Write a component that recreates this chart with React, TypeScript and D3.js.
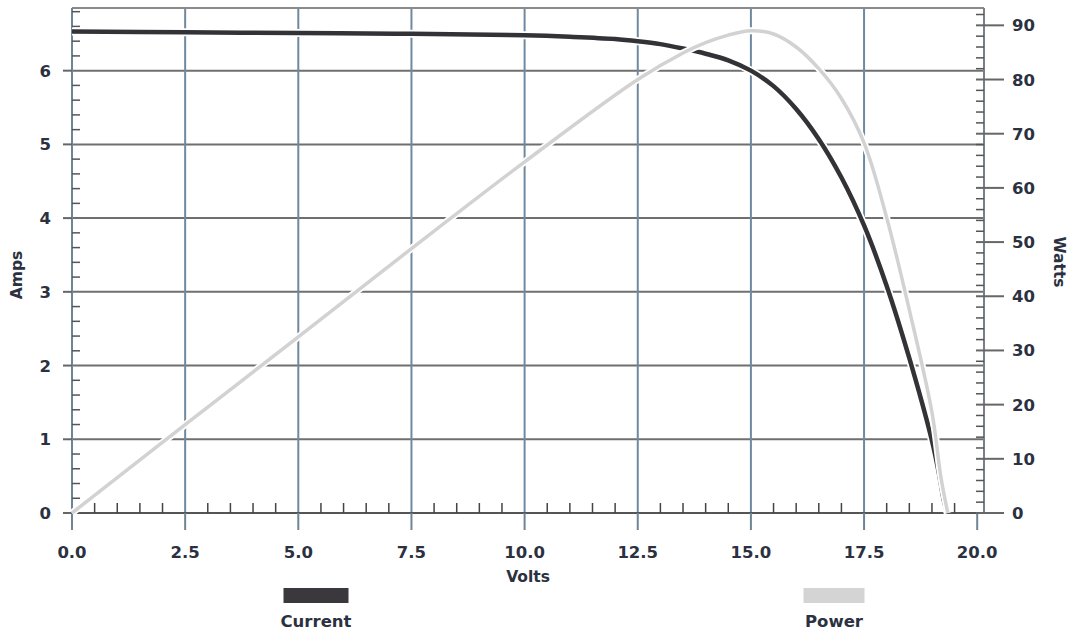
import React, { useEffect, useRef } from "react";
import * as d3 from "d3";

// I-V curve (volts / amps)
const currentVolts = [0, 2.5, 5, 7.5, 10, 11, 12, 12.5, 13, 13.5, 14, 14.5, 15, 15.5, 16, 16.5, 17, 17.5, 18, 18.5, 19, 19.15, 19.27, 19.35];
const currentAmps = [6.53, 6.52, 6.51, 6.5, 6.48, 6.46, 6.43, 6.4, 6.36, 6.3, 6.23, 6.14, 6.0, 5.79, 5.48, 5.07, 4.55, 3.9, 3.08, 2.1, 0.98, 0.55, 0.15, 0];

// power curve (volts / watts)
const powerVolts = [0, 2.5, 5, 7.5, 10, 12.5, 13.5, 14, 14.5, 15, 15.5, 16, 16.5, 17, 17.5, 18, 18.5, 19, 19.2, 19.35];
const powerWatts = [0, 16.3, 32.5, 48.8, 64.8, 80.0, 84.9, 86.8, 88.2, 89.0, 88.4, 86.0, 82.0, 76.5, 68.3, 54.5, 37.5, 18.6, 6.5, 0];

const voltTicks = [0, 2.5, 5, 7.5, 10, 12.5, 15, 17.5, 20];
const ampTicks = [0, 1, 2, 3, 4, 5, 6];
const wattTicks = [0, 10, 20, 30, 40, 50, 60, 70, 80, 90];

const legendNames = ["Current", "Power"];
const legendColors = ["#3a383d", "#d4d4d4"];

const FONT = "'DejaVu Sans', Verdana, sans-serif";
const TEXT = "#2b3140";

export default function App() {
  const ref = useRef<SVGSVGElement>(null);

  useEffect(() => {
    const svg = d3.select(ref.current);
    svg.selectAll("*").remove();

    const left = 72, right = 984, top = 8, bottom = 513;

    const x = d3.scaleLinear().domain([0, 20.15]).range([left, right]);
    const yA = d3.scaleLinear().domain([0, 6.85]).range([bottom, top]);
    const yW = d3.scaleLinear().domain([0, 93.2]).range([bottom, top]);

    const g = svg.append("g");

    // grid
    g.selectAll(".hgrid").data(ampTicks.slice(1)).join("line")
      .attr("x1", left).attr("x2", right)
      .attr("y1", d => yA(d)).attr("y2", d => yA(d))
      .attr("stroke", "#6f6f6f").attr("stroke-width", 2);

    g.selectAll(".vgrid").data(voltTicks.slice(1, -1)).join("line")
      .attr("x1", d => x(d)).attr("x2", d => x(d))
      .attr("y1", top).attr("y2", bottom)
      .attr("stroke", "#6f89a0").attr("stroke-width", 2);

    // frame
    g.append("line").attr("x1", left).attr("x2", right).attr("y1", top).attr("y2", top)
      .attr("stroke", "#8a8a8a").attr("stroke-width", 2);
    g.append("line").attr("x1", left).attr("x2", left).attr("y1", top).attr("y2", bottom)
      .attr("stroke", "#6d8598").attr("stroke-width", 2);
    g.append("line").attr("x1", right).attr("x2", right).attr("y1", top).attr("y2", bottom)
      .attr("stroke", "#7a7f86").attr("stroke-width", 2);
    g.append("line").attr("x1", left).attr("x2", right).attr("y1", bottom).attr("y2", bottom)
      .attr("stroke", "#555").attr("stroke-width", 2);

    // bottom minor ticks every 0.5 V
    const minorV = d3.range(1, 40).map(i => i * 0.5).filter(v => v % 2.5 !== 0);
    g.selectAll(".mv").data(minorV).join("line")
      .attr("x1", d => x(d)).attr("x2", d => x(d))
      .attr("y1", bottom).attr("y2", bottom - 10)
      .attr("stroke", "#444").attr("stroke-width", 1.5);
    g.selectAll(".Mv").data(voltTicks).join("line")
      .attr("x1", d => x(d)).attr("x2", d => x(d))
      .attr("y1", bottom).attr("y2", bottom + 17)
      .attr("stroke", "#6d8598").attr("stroke-width", 2);

    // left minor ticks every 0.2 A
    const minorA = d3.range(1, 35).map(i => i * 0.2).filter(v => Math.abs(v - Math.round(v)) > 0.01);
    g.selectAll(".ma").data(minorA).join("line")
      .attr("x1", left).attr("x2", left + 8)
      .attr("y1", d => yA(d)).attr("y2", d => yA(d))
      .attr("stroke", "#555").attr("stroke-width", 1.5);
    g.selectAll(".Ma").data(ampTicks).join("line")
      .attr("x1", left - 9).attr("x2", left)
      .attr("y1", d => yA(d)).attr("y2", d => yA(d))
      .attr("stroke", "#666").attr("stroke-width", 2);

    // right minor ticks every 2 W
    const minorW = d3.range(1, 47).map(i => i * 2).filter(v => v % 10 !== 0);
    g.selectAll(".mw").data(minorW).join("line")
      .attr("x1", right - 8).attr("x2", right)
      .attr("y1", d => yW(d)).attr("y2", d => yW(d))
      .attr("stroke", "#555").attr("stroke-width", 1.5);
    g.selectAll(".Mw").data(wattTicks).join("line")
      .attr("x1", right - 8).attr("x2", right + 20)
      .attr("y1", d => yW(d)).attr("y2", d => yW(d))
      .attr("stroke", "#666").attr("stroke-width", 2);

    // curves
    const currentPts: [number, number][] = currentVolts.map((v, i) => [v, currentAmps[i]]);
    const powerPts: [number, number][] = powerVolts.map((v, i) => [v, powerWatts[i]]);

    const lineA = d3.line<[number, number]>().x(d => x(d[0])).y(d => yA(d[1])).curve(d3.curveCatmullRom);
    const lineW = d3.line<[number, number]>().x(d => x(d[0])).y(d => yW(d[1])).curve(d3.curveCatmullRom);

    g.append("path").attr("d", lineA(currentPts)).attr("fill", "none")
      .attr("stroke", "#fff").attr("stroke-width", 8);
    g.append("path").attr("d", lineA(currentPts)).attr("fill", "none")
      .attr("stroke", "#333236").attr("stroke-width", 4.5).attr("stroke-linejoin", "round");
    g.append("path").attr("d", lineW(powerPts)).attr("fill", "none")
      .attr("stroke", "#fff").attr("stroke-width", 7);
    g.append("path").attr("d", lineW(powerPts)).attr("fill", "none")
      .attr("stroke", "#d2d2d2").attr("stroke-width", 3.5).attr("stroke-linejoin", "round");

    // tick labels
    const txt = (sel: any) => sel.attr("font-family", FONT).attr("font-weight", "bold")
      .attr("font-size", 16.5).attr("fill", TEXT);

    g.selectAll(".la").data(ampTicks).join("text").call(txt)
      .attr("x", 51).attr("y", d => yA(d) + 6).attr("text-anchor", "end")
      .text(d => d);
    g.selectAll(".lv").data(voltTicks).join("text").call(txt)
      .attr("x", d => x(d)).attr("y", 558).attr("text-anchor", "middle")
      .text(d => d.toFixed(1));
    g.selectAll(".lw").data(wattTicks).join("text").call(txt)
      .attr("x", 1012).attr("y", d => yW(d) + 6).attr("text-anchor", "start")
      .text(d => d);

    // axis titles
    g.append("text").call(txt).attr("font-size", 15.5).attr("text-anchor", "middle")
      .attr("x", 528).attr("y", 582).text("Volts");
    g.append("text").call(txt).attr("font-size", 15.5).attr("text-anchor", "middle")
      .attr("transform", "translate(22,275) rotate(-90)").text("Amps");
    g.append("text").call(txt).attr("font-size", 15.5).attr("text-anchor", "middle")
      .attr("transform", "translate(1054,262) rotate(90)").text("Watts");

    // legend
    const legendX = [316, 834];
    const legendW = [65, 61];
    legendNames.forEach((name, i) => {
      g.append("rect").attr("x", legendX[i] - legendW[i] / 2).attr("y", 588)
        .attr("width", legendW[i]).attr("height", 15).attr("fill", legendColors[i]);
      g.append("text").call(txt).attr("text-anchor", "middle")
        .attr("x", legendX[i]).attr("y", 627).text(name);
    });
  }, []);

  return (
    <svg ref={ref} width={1072} height={632}
      style={{ position: "absolute", left: 0, top: 0, background: "#fff" }} />
  );
}
